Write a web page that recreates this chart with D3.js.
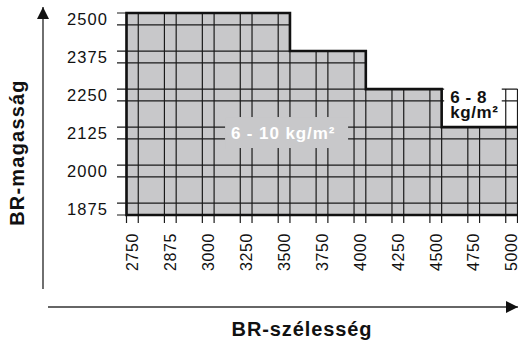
<!DOCTYPE html>
<html>
<head>
<meta charset="utf-8">
<script src="https://cdn.jsdelivr.net/npm/d3@7"></script>
<style>
  html, body { margin: 0; padding: 0; background: #fff; }
  svg { display: block; }
  text { font-family: "Liberation Sans", Arial, Helvetica, sans-serif; fill: #111; }
</style>
</head>
<body>
<svg id="chart" width="518" height="341"></svg>
<script>
// Door width categories (mm), left to right
const widths = ["2750", "2875", "3000", "3250", "3500", "3750", "4000", "4250", "4500", "4750", "5000"];
// Door height categories (mm), top to bottom
const heights = ["2500", "2375", "2250", "2125", "2000", "1875"];
// Maximum height per width for the 6 - 10 kg/m² panel class
const maxHeight610 = ["2500", "2500", "2500", "2500", "2500", "2375", "2375", "2250", "2250", "2125", "2125"];
// Maximum height per width for the 6 - 8 kg/m² panel class (only the widest doors)
const maxHeight68 = [null, null, null, null, null, null, null, null, null, "2250", "2250"];
// Region labels
const label610 = "6 - 10 kg/m²";
const label68 = ["6 - 8", "kg/m²"];
const xTitle = "BR-szélesség";
const yTitle = "BR-magasság";

const svg = d3.select("#chart");

const x = d3.scaleBand().domain(widths).range([126.5, 517.5]).paddingInner(0.69).paddingOuter(0);
const y = d3.scaleBand().domain(heights).range([13, 215]).paddingInner(0.69).paddingOuter(0);
const bwx = x.bandwidth(), bwy = y.bandwidth();

const yBottom = y(heights[heights.length - 1]) + bwy;
const xLeft = x(widths[0]);
const tickLeft = 117, tickBottom = 223;

// Envelope: tallest height reached by any class for each width
const envelope = widths.map((w, i) => {
  const a = maxHeight610[i], b = maxHeight68[i];
  if (b == null) return a;
  return (+b > +a) ? b : a;
});

// Step polygon for the 6 - 10 kg/m² region
const colLeft = i => i === 0 ? xLeft : x(widths[i - 1]) + bwx;
const colRight = i => x(widths[i]) + bwx;
const stepPts = [];
widths.forEach((w, i) => {
  stepPts.push([colLeft(i), y(maxHeight610[i])]);
  stepPts.push([colRight(i), y(maxHeight610[i])]);
});
const line = d3.line();

svg.append("path")
  .attr("d", line([[xLeft, yBottom], ...stepPts, [colRight(widths.length - 1), yBottom]]) + "Z")
  .attr("fill", "#c8c8ca");

// Grid lines
const grid = svg.append("g").attr("stroke", "#1a1a1a").attr("stroke-width", 1.2).attr("fill", "none");

heights.forEach(h => {
  // last column whose envelope reaches this height
  let last = -1;
  envelope.forEach((e, i) => { if (+e >= +h) last = i; });
  const xr = colRight(last);
  [y(h), y(h) + bwy].forEach(yy => {
    grid.append("line").attr("x1", tickLeft).attr("x2", xr).attr("y1", yy).attr("y2", yy);
  });
});

widths.forEach((w, i) => {
  const top = y(envelope[i]);
  [x(w), x(w) + bwx].forEach(xx => {
    grid.append("line").attr("x1", xx).attr("x2", xx).attr("y1", top).attr("y2", tickBottom);
  });
});

// Label backgrounds that interrupt the grid
const cx610 = x("3500") + bwx / 2 - 1;
const cy610 = y("2125") + bwy / 2;
svg.append("rect")
  .attr("x", cx610 - 58).attr("y", cy610 - 16).attr("width", 123).attr("height", 31)
  .attr("fill", "#c8c8ca");

const box68x = colRight(8) + 2.5;
svg.append("rect")
  .attr("x", box68x).attr("y", y("2250") - 1.5)
  .attr("width", x("5000") - 4 - box68x).attr("height", y("2125") - y("2250") + 0.5)
  .attr("fill", "#fff");

// Thick outline of the 6 - 10 kg/m² region
svg.append("path")
  .attr("d", line([[colRight(widths.length - 1) + 1, yBottom], [xLeft, yBottom], ...stepPts, [colRight(widths.length - 1) + 1, y(maxHeight610[widths.length - 1])]]))
  .attr("fill", "none").attr("stroke", "#111").attr("stroke-width", 2.6).attr("stroke-linejoin", "miter");

// Region labels
svg.append("text")
  .attr("x", cx610).attr("y", cy610 + 6)
  .attr("text-anchor", "middle")
  .style("font-size", "17px").style("font-weight", "bold").style("letter-spacing", "0.9px")
  .style("fill", "#fff")
  .text(label610);

const t68 = svg.append("text")
  .style("font-size", "17px").style("font-weight", "bold").style("letter-spacing", "0.6px");
label68.forEach((s, i) => {
  t68.append("tspan").attr("x", box68x + 6).attr("y", y("2250") + 14 + i * 14.5).text(s);
});

// Tick labels
svg.append("g").selectAll("text").data(heights).join("text")
  .attr("x", 108).attr("y", d => y(d) + bwy / 2)
  .attr("dy", "0.38em")
  .attr("text-anchor", "end")
  .style("font-size", "16.5px").style("letter-spacing", "1.1px")
  .text(d => d);

svg.append("g").selectAll("text").data(widths).join("text")
  .attr("transform", d => `translate(${x(d) + bwx / 2},233) rotate(-90)`)
  .attr("dy", "0.36em")
  .attr("text-anchor", "end")
  .style("font-size", "16px").style("letter-spacing", "0.6px")
  .text(d => d);

// Axis arrows
const defs = svg.append("defs");
defs.append("marker")
  .attr("id", "arrow").attr("viewBox", "0 0 10 10")
  .attr("refX", 10).attr("refY", 5)
  .attr("markerUnits", "userSpaceOnUse")
  .attr("markerWidth", 14).attr("markerHeight", 12)
  .attr("orient", "auto")
  .append("path").attr("d", "M0,0 L10,5 L0,10 Z").attr("fill", "#111");

svg.append("line")
  .attr("x1", 43).attr("y1", 289).attr("x2", 43).attr("y2", 7)
  .attr("stroke", "#333").attr("stroke-width", 1.4).attr("marker-end", "url(#arrow)");

svg.append("line")
  .attr("x1", 48).attr("y1", 307).attr("x2", 518).attr("y2", 307)
  .attr("stroke", "#333").attr("stroke-width", 1.4).attr("marker-end", "url(#arrow)");

// Axis titles
svg.append("text")
  .attr("x", 302).attr("y", 336)
  .attr("text-anchor", "middle")
  .style("font-size", "20px").style("font-weight", "bold").style("letter-spacing", "0.9px")
  .text(xTitle);

svg.append("text")
  .attr("transform", "translate(24,152.5) rotate(-90)")
  .attr("text-anchor", "middle")
  .style("font-size", "20px").style("font-weight", "bold").style("letter-spacing", "1.2px")
  .text(yTitle);
</script>
</body>
</html>
